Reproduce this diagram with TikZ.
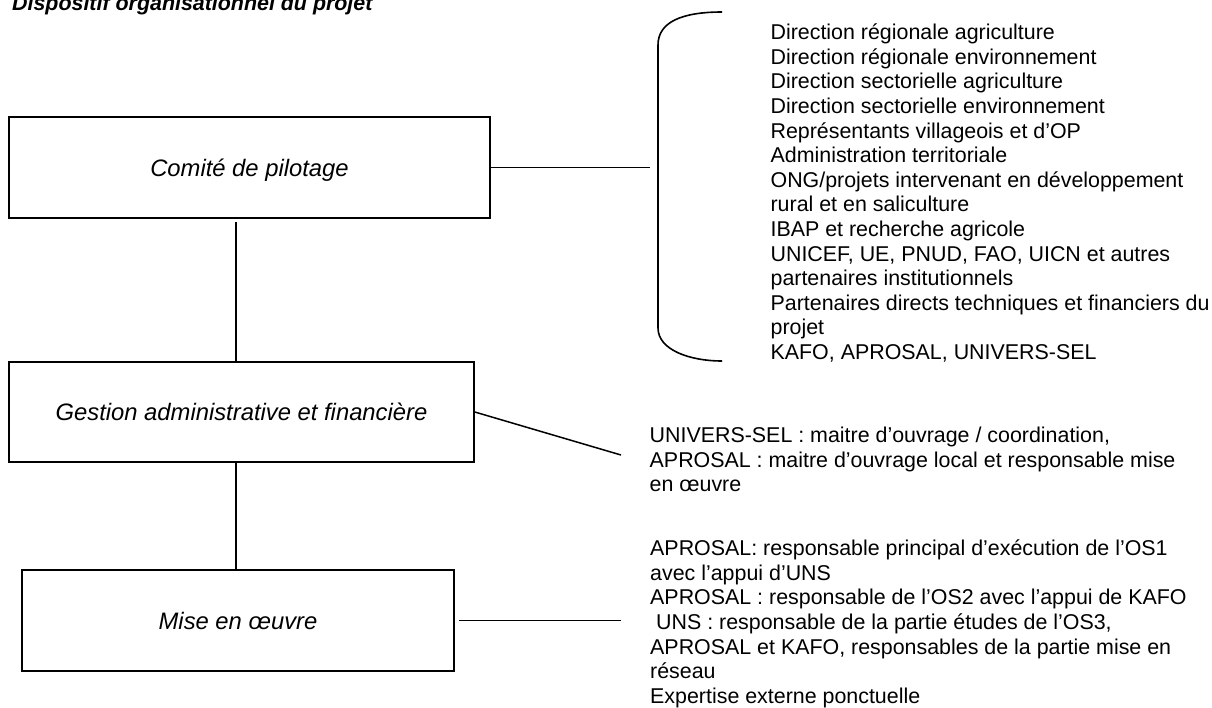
\documentclass[tikz,border=0pt]{standalone}
\usepackage{fontspec}
\setmainfont{Liberation Sans}
\begin{document}
\begin{tikzpicture}[x=1pt,y=-1pt,
  box/.style={draw, line width=1.6pt, inner sep=0pt, font=\fontsize{23.8}{28}\selectfont\itshape, text height=17pt, text depth=0pt},
  conn/.style={line width=1.5pt},
  brace/.style={line width=1.6pt},
  listtext/.style={anchor=base west, inner sep=0pt, font=\fontsize{21.4}{24.6}\selectfont},
  titletext/.style={anchor=base west, inner sep=0pt, font=\fontsize{21.4}{26}\selectfont\bfseries\itshape}]
\useasboundingbox (0,0) rectangle (1212,707);
% title
\node[titletext] (title) at (12,10) {Dispositif organisationnel du projet};
% boxes
\node[box, minimum width=481pt, minimum height=101pt] (b1) at (249.5,167.5) {Comité de pilotage};
\node[box, minimum width=465pt, minimum height=100pt] (b2) at (241.5,412) {Gestion administrative et financière};
\node[box, minimum width=432pt, minimum height=101pt] (b3) at (238,620.5) {Mise en œuvre};
% vertical connectors
\coordinate (vx) at (236,0);
\draw[conn] ([yshift=-3.5pt]b1.south -| vx) -- (b2.north -| vx);
\draw[conn] (b2.south -| vx) -- (b3.north -| vx);
% side connectors
\coordinate (br) at (650,167.5);
\draw[conn] (b1.east) -- (br);
\coordinate (d2) at (621,455);
\draw[conn] (b2.east) -- (d2);
\coordinate (d3) at (621,620.5);
\draw[conn] ([xshift=4pt]b3.east) -- (d3);
% bracket
\draw[brace] (722,12) .. controls (682,12) and (658,22) .. (658,45) -- (658,328) .. controls (658,350) and (690,361) .. (722,361);
% text lists
\node[listtext] (t1) at (770.4,39.7) {\begin{tabular}[t]{@{}l@{}}
Direction régionale agriculture\\
Direction régionale environnement\\
Direction sectorielle agriculture\\
Direction sectorielle environnement\\
Représentants villageois et d’OP\\
Administration territoriale\\
ONG/projets intervenant en développement\\
rural et en saliculture\\
IBAP et recherche agricole\\
UNICEF, UE, PNUD, FAO, UICN et autres\\
partenaires institutionnels\\
Partenaires directs techniques et financiers du\\
projet\\
KAFO, APROSAL, UNIVERS-SEL
\end{tabular}};
\node[listtext] (t2) at (649.5,442.7) {\begin{tabular}[t]{@{}l@{}}
UNIVERS-SEL : maitre d’ouvrage / coordination,\\
APROSAL : maitre d’ouvrage local et responsable mise\\
en œuvre
\end{tabular}};
\node[listtext] (t3) at (650,555.6) {\begin{tabular}[t]{@{}l@{}}
APROSAL: responsable principal d’exécution de l’OS1\\
avec l’appui d’UNS\\
APROSAL : responsable de l’OS2 avec l’appui de KAFO\\
\hspace*{0.278em}UNS : responsable de la partie études de l’OS3,\\
APROSAL et KAFO, responsables de la partie mise en\\
réseau\\
Expertise externe ponctuelle
\end{tabular}};
\end{tikzpicture}
\end{document}
